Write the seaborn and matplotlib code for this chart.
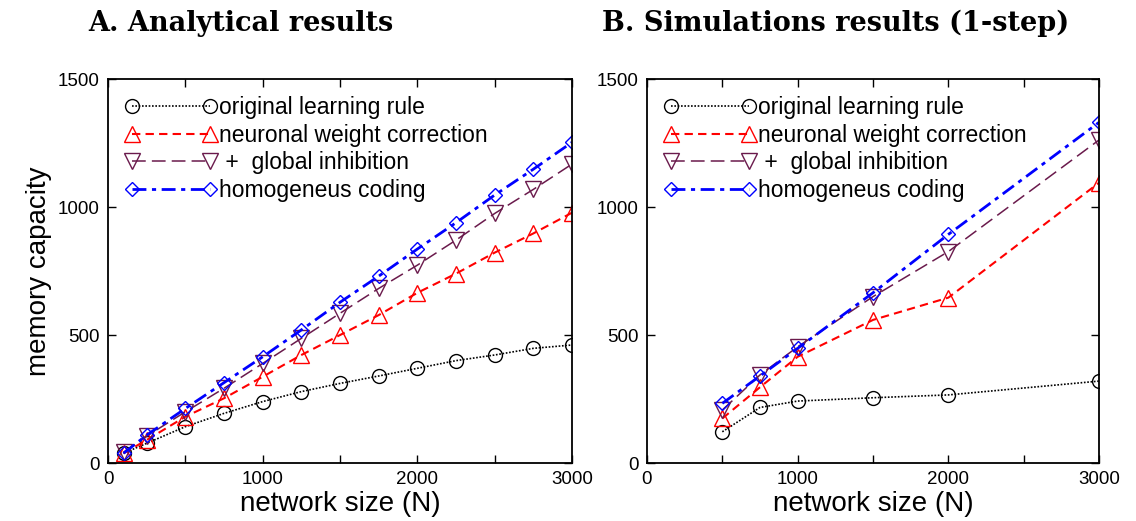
import numpy as np
import pandas as pd
import matplotlib
matplotlib.use("Agg")
import matplotlib.pyplot as plt
import seaborn as sns

# ---- data ----
xA = [100, 250, 500, 750, 1000, 1250, 1500, 1750, 2000, 2250, 2500, 2750, 3000]
A_original = [38, 77, 142, 194, 240, 279, 311, 340, 370, 400, 422, 448, 461]
A_neuronal = [38, 90, 181, 253, 337, 422, 500, 578, 665, 740, 822, 897, 978]
A_global = [42, 105, 200, 292, 389, 487, 585, 682, 773, 871, 975, 1069, 1168]
A_homog = [38, 109, 213, 314, 415, 520, 628, 730, 836, 939, 1047, 1148, 1253]

xB = [500, 750, 1000, 1500, 2000, 3000]
B_original = [122, 217, 242, 255, 266, 320]
B_neuronal = [174, 296, 415, 559, 646, 1095]
B_global = [207, 344, 454, 650, 826, 1262]
B_homog = [233, 340, 448, 665, 893, 1331]

labels = ["original learning rule", "neuronal weight correction",
          " +  global inhibition", "homogeneus coding"]
titles = ["A. Analytical results", "B. Simulations results (1-step)"]
xticks = [0, 1000, 2000, 3000]
yticks = [0, 500, 1000, 1500]

sns.set_style("ticks")
plt.rcParams["font.family"] = ["Liberation Sans", "DejaVu Sans"]
plt.rcParams["text.color"] = "black"
plt.rcParams["axes.labelcolor"] = "black"
plt.rcParams["xtick.color"] = "black"
plt.rcParams["ytick.color"] = "black"

styles = [
    dict(color="black", marker="o", ms=10, ls=(0, (1, 1)), lw=1.2),
    dict(color="#ff0000", marker="^", ms=11, ls=(0, (4, 2.5)), lw=1.5),
    dict(color="#6a1a4c", marker="v", ms=11, ls=(0, (9, 4)), lw=1.1),
    dict(color="#0000ff", marker="D", ms=7.5, ls=(0, (5, 2, 1.5, 2)), lw=2.0),
]

fig = plt.figure(figsize=(11.36, 5.21), dpi=100)
axA = fig.add_axes([0.0951, 0.1113, 0.4085, 0.737])
axB = fig.add_axes([0.5695, 0.1113, 0.398, 0.737])

for ax, xs, series in [(axA, xA, [A_original, A_neuronal, A_global, A_homog]),
                       (axB, xB, [B_original, B_neuronal, B_global, B_homog])]:
    for ys, st, lab in zip(series, styles, labels):
        df = pd.DataFrame({"N": xs, "cap": ys})
        sns.lineplot(data=df, x="N", y="cap", ax=ax, color=st["color"],
                     marker=st["marker"], markersize=st["ms"],
                     markerfacecolor="none", markeredgecolor=st["color"],
                     markeredgewidth=1.0, linestyle=st["ls"], linewidth=st["lw"],
                     label=lab, errorbar=None)
    ax.set_xlim(0, 3000)
    ax.set_ylim(0, 1500)
    ax.set_xticks(np.arange(0, 3001, 500))
    ax.set_xticklabels([str(t) if t in xticks else "" for t in range(0, 3001, 500)])
    ax.set_yticks(yticks)
    ax.set_yticklabels([str(t) for t in yticks])
    ax.tick_params(direction="in", length=6, width=1, top=True, right=True,
                   labelsize=13.5, pad=6)
    for s in ax.spines.values():
        s.set_linewidth(1.3)
        s.set_color("black")
    ax.set_xlabel("network size (N)", fontsize=20, labelpad=2)
    ax.set_ylabel("")
    ax.legend(loc="upper left", frameon=False, numpoints=2, handlelength=4.0,
              fontsize=16.5, borderaxespad=0.25, labelspacing=0.2,
              handletextpad=0.1, borderpad=0.5)

axA.set_ylabel("memory capacity", fontsize=20, labelpad=4)

fig.text(0.212, 0.955, titles[0], ha="center", va="center", fontsize=19.5,
         fontweight="bold", family="DejaVu Serif")
fig.text(0.736, 0.955, titles[1], ha="center", va="center", fontsize=19.5,
         fontweight="bold", family="DejaVu Serif")

fig.savefig("out.png", dpi=100)
